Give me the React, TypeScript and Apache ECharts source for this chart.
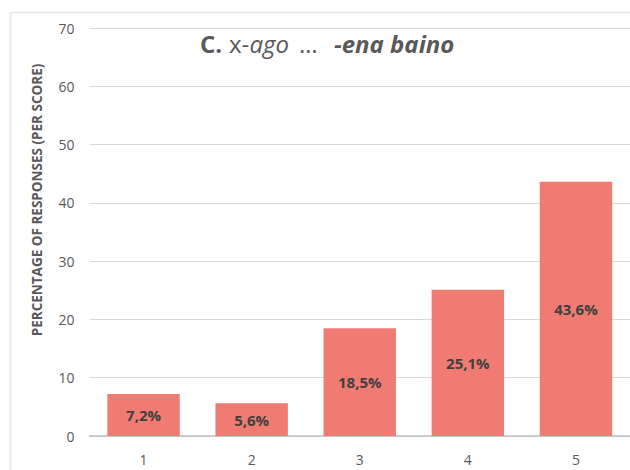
import React, { useEffect, useRef } from "react";
import * as echarts from "echarts";

const scores = ["1", "2", "3", "4", "5"];
const percentages = [7.2, 5.6, 18.5, 25.1, 43.6];
const yTicks = { min: 0, max: 70, interval: 10 };

const BAR_COLOR = "#F07B72";
const TEXT_COLOR = "#595959";
const FONT = "'Open Sans', 'Noto Sans', sans-serif";

// title pieces, each with its own style and left edge
const titleParts = [
  { text: "C.", x: 200, weight: "bold", style: "normal" },
  { text: "x-", x: 229, weight: "normal", style: "normal" },
  { text: "ago", x: 249.5, weight: "normal", style: "italic" },
  { text: "…", x: 299, weight: "normal", style: "normal" },
  { text: "-ena baino", x: 334, weight: "bold", style: "italic" },
];

export default function App() {
  const ref = useRef<HTMLDivElement>(null);

  useEffect(() => {
    if (!ref.current) return;
    const chart = echarts.init(ref.current, undefined, { renderer: "svg" });
    chart.setOption({
      animation: false,
      backgroundColor: "#ffffff",
      textStyle: { fontFamily: FONT },
      grid: { left: 89.5, top: 28, bottom: 34, right: -3.5, containLabel: false },
      xAxis: {
        type: "category",
        data: scores,
        axisLine: { lineStyle: { color: "#bfbfbf", width: 1.5 } },
        axisTick: { show: false },
        axisLabel: { color: TEXT_COLOR, fontSize: 14, margin: 16, fontFamily: FONT },
      },
      yAxis: {
        type: "value",
        min: yTicks.min,
        max: yTicks.max,
        interval: yTicks.interval,
        axisLine: { show: false },
        axisTick: { show: false },
        axisLabel: { color: TEXT_COLOR, fontSize: 14, margin: 15, fontFamily: FONT },
        splitLine: { lineStyle: { color: "#d9d9d9", width: 1 } },
      },
      series: [
        {
          type: "bar",
          data: percentages,
          barWidth: "67%",
          itemStyle: { color: BAR_COLOR },
          label: {
            show: true,
            position: "inside",
            formatter: (p: any) => String(p.value).replace(".", ",") + "%",
            color: "#404040",
            fontWeight: "bold",
            fontSize: 15,
            fontFamily: FONT,
          },
        },
      ],
      graphic: [
        {
          type: "rect",
          shape: { x: 10.5, y: 12.5, width: 700, height: 600 },
          style: { fill: "none", stroke: "#e8e8e8", lineWidth: 1.5 },
          silent: true,
        },
        ...titleParts.map((p) => ({
          type: "text",
          x: p.x,
          y: 43,
          style: {
            text: p.text,
            align: "left",
            verticalAlign: "middle",
            fontSize: 24,
            fontWeight: p.weight,
            fontStyle: p.style,
            fill: TEXT_COLOR,
            fontFamily: FONT,
          },
        })),
        {
          type: "text",
          x: 37,
          y: 200,
          rotation: Math.PI / 2,
          style: {
            text: "PERCENTAGE OF RESPONSES (PER SCORE)",
            align: "center",
            verticalAlign: "middle",
            fontSize: 13.5,
            fontWeight: "bold",
            fill: TEXT_COLOR,
            fontFamily: FONT,
          },
        },
      ],
    });
    return () => chart.dispose();
  }, []);

  return (
    <div
      ref={ref}
      style={{ position: "fixed", left: 0, top: 0, width: 630, height: 470 }}
    />
  );
}
